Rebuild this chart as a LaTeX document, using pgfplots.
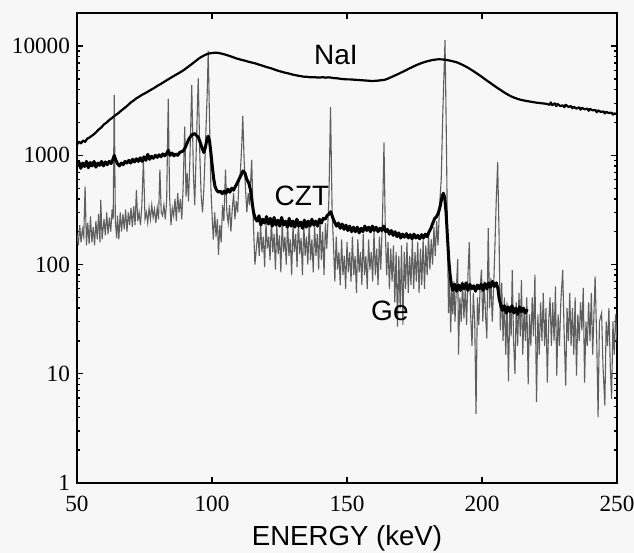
\documentclass[border=0pt]{standalone}
\usepackage{fontspec}
\setmainfont{Liberation Serif}
\newfontfamily\labelfont{Liberation Sans}
\usepackage{pgfplots}
\pgfplotsset{compat=1.18}
\definecolor{bgc}{RGB}{247,247,247}
\definecolor{gecol}{RGB}{95,95,95}

\begin{document}
\begin{tikzpicture}
\fill[bgc] (-38.5pt,-35pt) rectangle (278.5pt,241.5pt);
\begin{axis}[
  scale only axis, width=270pt, height=235pt,
  xmin=50, xmax=250, ymode=log, ymin=1, ymax=20100,
  xtick={50,100,150,200,250}, xticklabels={50,100,150,200,250},
  ytick={1,10,100,1000,10000}, yticklabels={1,10,100,1000,10000},
  minor ytick={2,3,4,5,6,7,8,9,20,30,40,50,60,70,80,90,200,300,400,500,600,700,800,900,2000,3000,4000,5000,6000,7000,8000,9000},
  tick align=inside, major tick length=3pt, minor tick length=1.6pt,
  every tick/.style={black, line width=0.7pt},
  axis line style={line width=1pt},
  tick label style={font=\fontsize{11.6}{13}\selectfont},
  xticklabel style={yshift=-3pt},
  xlabel={ENERGY (keV)},
  xlabel style={font=\labelfont\fontsize{13.8}{15}\selectfont},
  clip=true,
]
% Ge
\addplot[gecol, line width=0.55pt] coordinates {
(50,190)(50.5,150)(51,230)(51.5,160)(52,210)(52.5,180)(53,520)(53.5,150)(54,240)(54.5,155)
(55,276)(55.5,160)(56,220)(56.5,150)(57,250)(57.5,170)(58,290)(58.5,160)(58.8,390)(59.3,170)
(60,260)(60.5,185)(61,300)(61.5,190)(62,270)(62.5,200)(63,320)(63.4,260)(63.8,3570)(64.2,250)
(64.7,175)(65,280)(65.5,170)(66,300)(66.5,200)(67,290)(67.5,210)(68,320)(68.5,200)(69,300)
(69.5,230)(70,330)(70.5,220)(71,340)(71.5,230)(72,480)(72.5,250)(73,300)(73.5,230)(74,340)
(74.6,910)(75.2,260)(75.7,300)(76.2,240)(76.7,330)(77.2,260)(77.7,350)(78.2,270)(78.7,320)(79.2,240)
(79.7,330)(80.2,260)(80.7,740)(81.2,300)(81.7,280)(82.2,350)(82.7,260)(83.2,380)(83.8,3280)(84.3,420)
(84.8,230)(85.3,330)(85.8,280)(86.3,400)(86.8,250)(87.3,450)(87.8,300)(88.3,400)(88.8,260)(89.3,500)
(89.9,1830)(90.4,420)(90.8,690)(91.3,380)(91.8,900)(92.5,4400)(93.1,700)(93.6,350)(94.2,1200)(94.9,5070)
(95.5,1000)(96,420)(96.5,300)(97,500)(97.5,1100)(98.2,3500)(98.6,9000)(99.1,2000)(99.6,500)(100.1,260)
(100.5,169)(101,300)(101.5,180)(102,260)(102.4,123)(102.9,230)(103.4,160)(103.9,350)(104.4,250)(105,740)
(105.5,300)(106,240)(106.5,350)(107,200)(107.5,320)(108,450)(108.5,260)(109,380)(109.5,300)(110,600)
(110.5,700)(111,1200)(111.4,2300)(111.9,900)(112.4,500)(112.9,300)(113.4,450)(113.9,350)(114.7,910)(115.3,250)
(115.9,100)(116.5,147)(117,200)(117.5,120)(118,230)(118.5,130)(119,180)(119.5,95)(120,240)(120.5,140)
(121,180)(121.5,110)(122,260)(122.5,130)(123,190)(123.5,90)(124,230)(124.5,125)(125,185)(125.5,85)
(126,250)(126.5,130)(127,180)(127.5,100)(128,240)(128.5,120)(129,170)(129.5,80)(130,230)(130.5,130)
(131,190)(131.5,95)(132,260)(132.5,125)(133,175)(133.5,80)(134,240)(134.5,120)(135,180)(135.5,100)
(136,250)(136.5,110)(137,170)(137.5,85)(138,230)(138.5,120)(139,190)(139.5,90)(140,260)(140.5,110)
(141,200)(141.5,80)(142,240)(142.5,140)(143.3,400)(143.9,2760)(144.5,300)(145,150)(145.5,70)(146,180)
(146.5,90)(147,130)(147.5,65)(148,170)(148.5,80)(149,120)(149.5,60)(150,160)(150.5,85)(151,130)
(151.5,70)(152,180)(152.5,80)(153,120)(153.5,55)(154,170)(154.5,85)(155,130)(155.5,65)(156,190)
(156.5,80)(157,120)(157.5,60)(158,170)(158.5,90)(159,130)(159.5,70)(160,200)(160.5,80)(161,140)
(161.5,65)(162,180)(162.5,90)(163.2,300)(163.7,1310)(164.2,200)(164.7,80)(165.2,160)(165.7,60)(166.2,140)
(166.7,70)(167.2,150)(167.7,45)(168.2,130)(168.7,27)(169.2,120)(169.7,40)(170.2,150)(170.7,28)(171.2,130)
(171.7,60)(172.2,160)(172.7,55)(173.2,120)(173.7,65)(174.2,170)(174.7,60)(175.2,130)(175.7,70)(176.2,160)
(176.7,55)(177.2,140)(177.7,65)(178.2,170)(178.7,60)(179.2,150)(179.7,80)(180.2,190)(180.7,90)(181.2,170)
(181.7,100)(182.2,220)(182.7,120)(183.2,250)(183.7,150)(184.3,350)(184.9,600)(185.5,2500)(186.3,11350)(186.8,1500)
(187.2,200)(187.6,36)(188,80)(188.4,24)(188.8,60)(189.2,35)(189.6,70)(190,30)(190.5,60)(191,112)
(191.3,15)(191.8,50)(192.3,30)(192.8,70)(193.3,32)(193.8,60)(194.3,28)(194.8,80)(195.3,160)(195.8,35)
(196.3,18)(196.8,55)(197.3,30)(197.8,4.3)(198.3,50)(198.8,28)(199.3,60)(199.8,90)(200.3,30)(200.8,70)
(201.3,35)(201.8,21)(202.3,216)(202.8,40)(203.3,75)(203.8,30)(204.3,60)(204.8,150)(205.3,400)(205.8,868)
(206.3,200)(206.8,25)(207.3,68)(207.8,20)(208.3,50)(208.8,15)(209.3,45)(209.8,8.5)(210.3,40)(210.8,22)
(211.2,89)(211.7,20)(212.2,10)(212.7,45)(213.2,18)(213.7,55)(214.2,22)(214.6,72)(215.1,15)(215.6,40)
(216.1,20)(216.6,50)(217.1,8)(217.6,35)(218.1,18)(218.6,50)(219.1,22)(219.6,81)(220.2,5.5)(220.7,35)
(221.2,15)(221.7,45)(222.2,20)(222.7,55)(223.2,18)(223.7,40)(224.2,8.3)(224.7,30)(225.2,50)(225.7,18)
(226.2,45)(226.7,20)(227.2,63)(227.7,9.6)(228.2,35)(228.7,18)(229.2,45)(229.9,89)(230.4,25)(231,7.8)
(231.5,40)(232,20)(232.5,55)(233,18)(233.5,40)(234,15)(234.5,50)(235,9.6)(235.5,35)(236,20)
(236.5,45)(237,25)(237.5,61)(238,8.3)(238.5,30)(239,18)(239.5,45)(240,20)(240.5,55)(241,15)
(241.9,78)(242.5,20)(243,4)(243.5,30)(244.3,36)(244.8,12)(245.5,5.1)(246,30)(246.5,18)(247,40)
(247.5,12)(248,5.9)(248.5,30)(249,15)(249.5,35)(250,20)
};
% CZT
\addplot[black, line width=1.5pt, line join=round] coordinates {
(50,810)(50.7,870)(51.4,760)(52.1,850)(52.8,790)(53.5,880)(54.2,770)(54.9,860)(55.6,800)(56.3,880)
(57,780)(57.7,850)(58.4,810)(59.1,880)(59.8,800)(60.5,870)(61.2,820)(61.9,880)(62.6,840)(63.3,920)
(63.8,1000)(64.4,900)(65,840)(65.7,800)(66.4,850)(67.1,820)(67.8,880)(68.5,850)(69.2,900)(69.9,850)
(70.6,920)(71.3,870)(72,930)(72.7,880)(73.4,950)(74.1,880)(74.8,970)(75.5,900)(76.2,1020)(76.9,920)
(77.6,980)(78.3,940)(79,1000)(79.7,960)(80.4,1010)(81.1,970)(81.8,1030)(82.5,990)(83.2,1040)(83.8,1110)
(84.5,1000)(85.2,1050)(85.9,990)(86.6,1030)(87.3,1000)(88,1060)(88.7,1080)(89.4,1100)(90.1,1180)(90.8,1300)
(91.5,1420)(92.2,1500)(92.9,1560)(93.6,1580)(94.3,1520)(95,1450)(95.7,1300)(96.4,1150)(97,1060)(97.6,1200)
(98.2,1420)(98.6,1500)(99.1,1350)(99.6,1050)(100.1,800)(100.6,620)(101.1,520)(101.7,480)(102.4,460)(103.1,470)
(103.8,445)(104.5,470)(105.2,450)(105.9,490)(106.6,460)(107.3,500)(108,480)(108.7,520)(109.4,560)(110.1,610)
(110.8,660)(111.5,720)(112.2,690)(112.9,600)(113.6,560)(114.3,480)(114.8,380)(115.4,300)(116,265)(116.7,250)
(117.4,280)(118.1,230)(118.8,260)(119.5,240)(120.2,275)(120.9,235)(121.6,265)(122.3,225)(123,270)(123.7,230)
(124.4,255)(125.1,225)(125.8,270)(126.5,230)(127.2,250)(127.9,220)(128.6,265)(129.3,225)(130,250)(130.7,220)
(131.4,260)(132.1,225)(132.8,245)(133.5,215)(134.2,255)(134.9,220)(135.6,250)(136.3,225)(137,260)(137.7,230)
(138.4,250)(139.1,225)(139.8,260)(140.5,240)(141.2,265)(141.9,260)(142.6,280)(143.3,290)(144,305)(144.7,270)
(145.4,245)(146.1,225)(146.8,240)(147.5,215)(148.2,235)(148.9,210)(149.6,230)(150.3,205)(151,225)(151.7,200)
(152.4,220)(153.1,200)(153.8,220)(154.5,195)(155.2,215)(155.9,200)(156.6,225)(157.3,205)(158,220)(158.7,200)
(159.4,225)(160.1,205)(160.8,220)(161.5,200)(162.2,215)(162.9,205)(163.6,225)(164.3,200)(165,210)(165.7,190)
(166.4,205)(167.1,185)(167.8,200)(168.5,180)(169.2,195)(169.9,175)(170.6,190)(171.3,178)(172,192)(172.7,175)
(173.4,188)(174.1,172)(174.8,190)(175.5,175)(176.2,185)(176.9,172)(177.6,188)(178.3,175)(179,190)(179.7,180)
(180.4,200)(181.1,215)(181.8,240)(182.5,265)(183.2,275)(183.9,300)(184.6,350)(185.2,420)(185.7,450)(186.2,410)
(186.7,300)(187.2,180)(187.7,110)(188.2,80)(188.7,65)(189.2,58)(189.9,66)(190.6,57)(191.3,65)(192,58)
(192.7,67)(193.4,60)(194.1,68)(194.8,58)(195.5,66)(196.2,60)(196.9,64)(197.6,57)(198.3,65)(199,60)
(199.7,66)(200.4,58)(201.1,67)(201.8,60)(202.5,68)(203.2,62)(203.9,70)(204.6,63)(205.3,68)(205.9,60)
(206.4,48)(207,42)(207.6,38)(208.3,42)(209,36)(209.7,41)(210.4,37)(211.1,42)(211.8,36)(212.5,40)
(213.2,35)(213.9,41)(214.6,37)(215.3,40)(216,36)(216.8,39)
};
% NaI
\addplot[black, line width=1.1pt, line join=round] coordinates {
(50,1260)(50.8,1330)(51.5,1290)(52.3,1370)(53,1330)(53.8,1420)(54.5,1450)(55.3,1500)(56,1540)(57,1620)
(58,1720)(59,1800)(60,1920)(61,2000)(62,2110)(63,2200)(64,2310)(65,2400)(66,2520)(67,2640)
(68,2760)(69,2900)(70,3060)(71,3180)(72,3330)(73,3440)(74,3570)(75,3680)(76,3800)(77,3930)
(78,4060)(79,4200)(80,4360)(81,4500)(82,4660)(83,4830)(84,5000)(85,5180)(86,5360)(87,5530)
(88,5720)(89,5920)(90,6150)(91,6420)(92,6700)(93,7000)(94,7320)(95,7650)(96,7950)(97,8200)
(98,8420)(99,8560)(100,8650)(101,8700)(102,8680)(103,8600)(104,8480)(105,8350)(106,8200)(107,8050)
(108,7880)(109,7720)(110,7600)(111,7480)(112,7380)(113,7250)(114,7150)(115,7050)(116,6950)(117,6820)
(118,6700)(119,6580)(120,6450)(121,6350)(122,6250)(123,6120)(124,6000)(125,5900)(126,5800)(127,5720)
(128,5650)(129,5560)(130,5480)(131,5420)(132,5350)(133,5300)(134,5250)(135,5250)(136,5200)(137,5180)
(138,5200)(139,5160)(140,5150)(141,5200)(142,5140)(143,5180)(144,5150)(145,5100)(146,5080)(147,5050)
(148,5000)(149,4980)(150,4960)(151,4960)(152,4940)(153,4920)(154,4900)(155,4880)(156,4860)(157,4840)
(158,4820)(159,4800)(160,4800)(161,4820)(162,4850)(163,4880)(164,4920)(165,5020)(166,5150)(167,5280)
(168,5420)(169,5560)(170,5720)(171,5880)(172,6050)(173,6230)(174,6400)(175,6580)(176,6750)(177,6900)
(178,7050)(179,7180)(180,7300)(181,7400)(182,7480)(183,7540)(184,7580)(185,7560)(186,7520)(187,7450)
(188,7380)(189,7280)(190,7180)(191,7050)(192,6880)(193,6700)(194,6500)(195,6300)(196,6080)(197,5860)
(198,5640)(199,5430)(200,5220)(201,5000)(202,4800)(203,4620)(204,4430)(205,4260)(206,4100)(207,3950)
(208,3800)(209,3670)(210,3550)(211,3450)(212,3370)(213,3300)(214,3240)(215,3200)(216,3160)(217,3130)
(218,3100)(219,3070)(220,3040)(221,3020)(222,3000)(223,2980)(224,2960)(225,2900)(225.5,3050)(226,2880)
(227,2990)(227.5,2820)(228,2950)(229,2830)(230,2870)(230.5,2760)(231,2900)(232,2780)(233,2820)(233.5,2700)
(234,2780)(235,2680)(236,2750)(236.5,2620)(237,2720)(238,2640)(239,2680)(239.5,2560)(240,2660)(241,2580)
(242,2600)(242.5,2480)(243,2580)(244,2500)(245,2520)(245.5,2420)(246,2500)(247,2440)(248,2460)(248.5,2360)
(249,2420)(250,2380)
};
\node[font=\labelfont\fontsize{14}{16}\selectfont] at (axis cs:145.9,8280) {NaI};
\node[font=\labelfont\fontsize{14}{16}\selectfont] at (axis cs:133.3,427) {CZT};
\node[font=\labelfont\fontsize{14}{16}\selectfont] at (axis cs:165.9,38) {Ge};
\end{axis}
\pgfresetboundingbox
\path (-38.5pt,-35pt) rectangle (278.5pt,241.5pt);
\end{tikzpicture}
\end{document}
